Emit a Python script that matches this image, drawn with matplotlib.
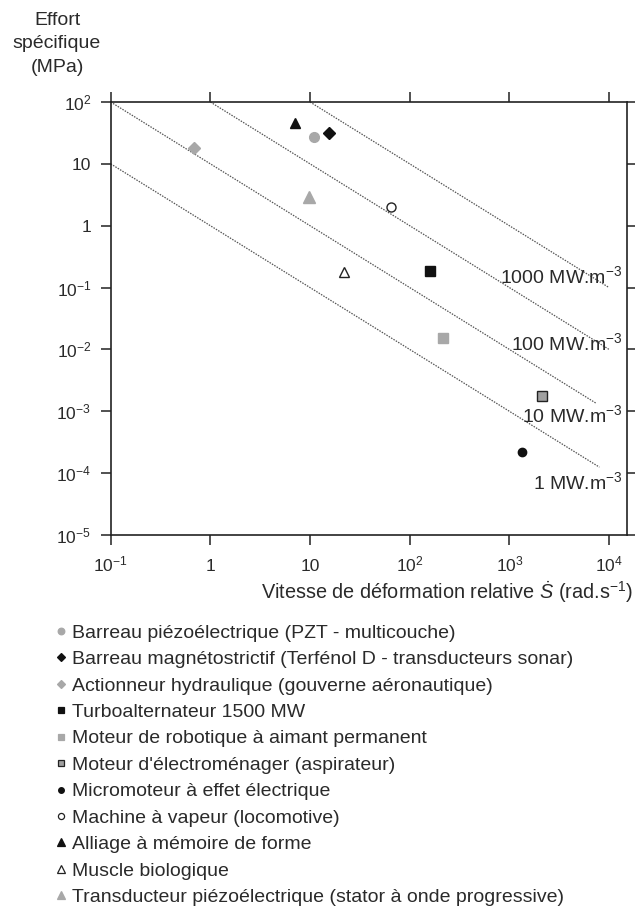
import matplotlib
matplotlib.use("Agg")
import matplotlib.pyplot as plt
from matplotlib.lines import Line2D

plt.rcParams['font.family'] = ['Liberation Sans', 'DejaVu Sans']
plt.rcParams['mathtext.fontset'] = 'custom'
plt.rcParams['mathtext.rm'] = 'Liberation Sans'
plt.rcParams['mathtext.it'] = 'Liberation Sans:italic'

# Data
labels = [
    "Barreau piézoélectrique (PZT - multicouche)",
    "Barreau magnétostrictif (Terfénol D - transducteurs sonar)",
    "Actionneur hydraulique (gouverne aéronautique)",
    "Turboalternateur 1500 MW",
    "Moteur de robotique à aimant permanent",
    "Moteur d'électroménager (aspirateur)",
    "Micromoteur à effet électrique",
    "Machine à vapeur (locomotive)",
    "Alliage à mémoire de forme",
    "Muscle biologique",
    "Transducteur piézoélectrique (stator à onde progressive)",
]
vitesse = [11, 15.5, 0.69, 160, 215, 2140, 1340, 65, 7, 22, 9.8]
effort = [27.5, 32, 18, 0.186, 0.0152, 1.78e-3, 2.16e-4, 1.99, 46, 0.18, 2.88]
markers = ['o', 'D', 'D', 's', 's', 's', 'o', 'o', '^', '^', '^']
faces = ['#a8a8a8', '#111111', '#a8a8a8', '#111111', '#a8a8a8', '#a0a0a0',
         '#111111', 'white', '#111111', 'white', '#a8a8a8']
edges = ['#a8a8a8', '#111111', '#a8a8a8', '#111111', '#a8a8a8', '#222222',
         '#111111', '#222222', '#111111', '#222222', '#a8a8a8']
sizes = [7, 6.5, 6.5, 7, 7, 6.5, 6, 6.5, 7.5, 7.5, 8]

# iso-power lines (MW.m-3) and where they stop on the right
puissances = [1, 10, 100, 1000]
fin_droite = [8e3, 7.4e3, 1e4, 1e4]
puissance_labels = ["1 MW.m$^{-3}$", "10 MW.m$^{-3}$", "100 MW.m$^{-3}$", "1000 MW.m$^{-3}$"]

fig = plt.figure(figsize=(6.35, 9.08), dpi=100)
ax = fig.add_axes([110.7 / 635, 373 / 908, 516.3 / 635, 433 / 908])
ax.set_xscale('log')
ax.set_yscale('log')
ax.set_xlim(0.1, 10 ** 4.18)
ax.set_ylim(1e-5, 1e2)

txt = '#2a2a2a'
for p, xe in zip(puissances, fin_droite):
    xs = max(0.1, p / 100.0)
    ax.plot([xs, xe], [p / xs, p / xe], color='#555555', lw=0.9,
            linestyle=(0, (1.2, 1.0)), zorder=1)

label_y = [5.6e-5, 6.8e-4, 9.9e-3, 0.119]
for lab, yy in zip(puissance_labels, label_y):
    ax.text(1.37e4, yy, lab, ha='right', va='baseline', fontsize=14, color=txt, zorder=3)

handles = []
for i in range(len(labels)):
    ax.plot(vitesse[i], effort[i], marker=markers[i], linestyle='none',
            markersize=sizes[i], markerfacecolor=faces[i], markeredgecolor=edges[i],
            markeredgewidth=1.0, zorder=4)
    handles.append(Line2D([], [], marker=markers[i], linestyle='none',
                          markersize=sizes[i] * 0.68, markerfacecolor=faces[i],
                          markeredgecolor=edges[i], markeredgewidth=0.9))

ax.set_xticks([0.1, 1, 10, 100, 1000, 10000])
ax.set_xticklabels(["10$^{-1}$", "1", "10", "10$^{2}$", "10$^{3}$", "10$^{4}$"])
ax.set_yticks([1e-5, 1e-4, 1e-3, 1e-2, 1e-1, 1, 10, 100])
ax.set_yticklabels(["10$^{-5}$", "10$^{-4}$", "10$^{-3}$", "10$^{-2}$", "10$^{-1}$",
                    "1", "10", "10$^{2}$"])
ax.minorticks_off()
ax.tick_params(direction='out', length=7, width=1.1, top=True, right=True,
               labeltop=False, labelright=False, labelsize=12.5, colors='#222222',
               labelcolor=txt)
ax.tick_params(axis='y', pad=7)
ax.tick_params(axis='x', pad=19)
for lab in ax.get_xticklabels():
    lab.set_verticalalignment('baseline')
for s in ax.spines.values():
    s.set_linewidth(1.2)
    s.set_color('#222222')

fig.text(57 / 635, 1 - 12 / 908, "Effort\nspécifique\n(MPa)", ha='center', va='top',
         fontsize=14, color=txt, linespacing=1.5)
fig.text(633 / 635, 1 - 592 / 908,
         r"Vitesse de déformation relative $\dot{S}$ (rad.s$^{-1}$)",
         ha='right', va='center', fontsize=14.3, color=txt)

fig.legend(handles, labels, loc='upper left', bbox_to_anchor=(55 / 635, 1 - 624 / 908),
           frameon=False, fontsize=14, handlelength=0.6, handletextpad=0.3,
           labelspacing=0.455, borderpad=0, borderaxespad=0, labelcolor=txt)

fig.savefig("out.png", dpi=100)
